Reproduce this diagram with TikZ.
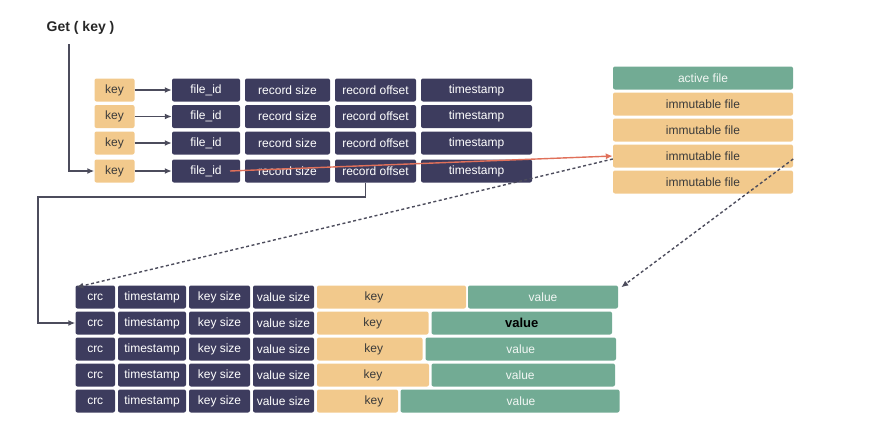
\documentclass[tikz,border=0pt]{standalone}
\usepackage{fontspec}
\setmainfont{Liberation Sans}
\usetikzlibrary{arrows.meta}
\definecolor{cNavy}{HTML}{3D3C5E}
\definecolor{cSand}{HTML}{F2C98C}
\definecolor{cSage}{HTML}{72AB94}
\definecolor{cRed}{HTML}{E0705A}
\definecolor{cWire}{HTML}{4C4C5C}
\definecolor{cKeyInk}{HTML}{3A3A3A}
\definecolor{cValInk}{HTML}{F2F7F4}
\begin{document}
\begin{tikzpicture}[x=1pt,y=-1pt,every node/.style={inner sep=0pt, font=\fontsize{12}{14}\selectfont},
	cell/.style={rounded corners=2pt, minimum height=23pt},
	navybox/.style={cell, fill=cNavy, text=white},
	sandbox/.style={cell, fill=cSand, text=cKeyInk},
	sagebox/.style={cell, fill=cSage, text=cValInk},
	wire/.style={draw=cWire, line width=1.4pt},
	tip/.style={-{Latex[length=7pt,width=6pt]}},
	dashwire/.style={wire, dash pattern=on 3pt off 2.5pt, tip}]
	
	\useasboundingbox (0,0) rectangle (874,434);
	
	\node[anchor=west, font=\bfseries\fontsize{14}{16}\selectfont, text=black!85] (get) at (46.5,28) {Get ( key )};
	\coordinate (g0) at (69,44);
	\coordinate (bend) at (38,197);
	
	% index rows
	\node[sandbox, minimum width=40pt] (k1) at (114.5,90) {key};
	\node[navybox, minimum width=68pt] (f1) at (206,90) {file\_id};
	\node[navybox, minimum width=85pt] (rs1) at (287.5,90) {record size};
	\node[navybox, minimum width=81pt] (ro1) at (375.5,90) {record offset};
	\node[navybox, minimum width=111pt] (t1) at (476.5,90) {timestamp};
	
	\node[sandbox, minimum width=40pt] (k2) at (114.5,116.5) {key};
	\node[navybox, minimum width=68pt] (f2) at (206,116.5) {file\_id};
	\node[navybox, minimum width=85pt] (rs2) at (287.5,116.5) {record size};
	\node[navybox, minimum width=81pt] (ro2) at (375.5,116.5) {record offset};
	\node[navybox, minimum width=111pt] (t2) at (476.5,116.5) {timestamp};
	
	\node[sandbox, minimum width=40pt] (k3) at (114.5,143) {key};
	\node[navybox, minimum width=68pt] (f3) at (206,143) {file\_id};
	\node[navybox, minimum width=85pt] (rs3) at (287.5,143) {record size};
	\node[navybox, minimum width=81pt] (ro3) at (375.5,143) {record offset};
	\node[navybox, minimum width=111pt] (t3) at (476.5,143) {timestamp};
	
	\node[sandbox, minimum width=40pt] (k4) at (114.5,171) {key};
	\node[navybox, minimum width=68pt] (f4) at (206,171) {file\_id};
	\node[navybox, minimum width=85pt] (rs4) at (287.5,171) {record size};
	\node[navybox, minimum width=81pt] (ro4) at (375.5,171) {record offset};
	\node[navybox, minimum width=111pt] (t4) at (476.5,171) {timestamp};
	
	% data files
	\node[sagebox, minimum width=180pt] (file0) at (703,78) {active file};
	\node[sandbox, minimum width=180pt] (file1) at (703,104) {immutable file};
	\node[sandbox, minimum width=180pt] (file2) at (703,130) {immutable file};
	\node[sandbox, minimum width=180pt] (file3) at (703,156) {immutable file};
	\node[sandbox, minimum width=180pt] (file4) at (703,182) {immutable file};
	
	% records
	\node[navybox, minimum width=39.5pt] (c1) at (95.25,297) {crc};
	\node[navybox, minimum width=68pt] (ts1) at (152,297) {timestamp};
	\node[navybox, minimum width=61pt] (ks1) at (219.5,297) {key size};
	\node[navybox, minimum width=61pt] (vs1) at (283.5,297) {value size};
	\node[sandbox, minimum width=149pt, label={[text=cKeyInk, xshift=-17.5pt]center:key}] (key1) at (391.5,297) {};
	\node[sagebox, minimum width=150pt] (val1) at (543,297) {value};
	
	\node[navybox, minimum width=39.5pt] (c2) at (95.25,323) {crc};
	\node[navybox, minimum width=68pt] (ts2) at (152,323) {timestamp};
	\node[navybox, minimum width=61pt] (ks2) at (219.5,323) {key size};
	\node[navybox, minimum width=61pt] (vs2) at (283.5,323) {value size};
	\node[sandbox, minimum width=111.5pt] (key2) at (372.75,323) {key};
	\node[sagebox, minimum width=180.5pt, text=black, font=\bfseries\fontsize{13}{15}\selectfont] (val2) at (521.75,323) {value};
	
	\node[navybox, minimum width=39.5pt] (c3) at (95.25,349) {crc};
	\node[navybox, minimum width=68pt] (ts3) at (152,349) {timestamp};
	\node[navybox, minimum width=61pt] (ks3) at (219.5,349) {key size};
	\node[navybox, minimum width=61pt] (vs3) at (283.5,349) {value size};
	\node[sandbox, minimum width=105.5pt, label={[text=cKeyInk, xshift=4pt]center:key}] (key3) at (369.75,349) {};
	\node[sagebox, minimum width=190.5pt] (val3) at (520.75,349) {value};
	
	\node[navybox, minimum width=39.5pt] (c4) at (95.25,375) {crc};
	\node[navybox, minimum width=68pt] (ts4) at (152,375) {timestamp};
	\node[navybox, minimum width=61pt] (ks4) at (219.5,375) {key size};
	\node[navybox, minimum width=61pt] (vs4) at (283.5,375) {value size};
	\node[sandbox, minimum width=112pt] (key4) at (373,375) {key};
	\node[sagebox, minimum width=183.5pt, label={[text=cValInk, xshift=-3pt]center:value}] (val4) at (523.25,375) {};
	
	\node[navybox, minimum width=39.5pt] (c5) at (95.25,401) {crc};
	\node[navybox, minimum width=68pt] (ts5) at (152,401) {timestamp};
	\node[navybox, minimum width=61pt] (ks5) at (219.5,401) {key size};
	\node[navybox, minimum width=61pt] (vs5) at (283.5,401) {value size};
	\node[sandbox, minimum width=81pt, label={[text=cKeyInk, xshift=16.5pt]center:key}] (key5) at (357.5,401) {};
	\node[sagebox, minimum width=219pt, label={[text=cValInk, xshift=11pt]center:value}] (val5) at (510,401) {};
	
	% lookups
	\draw[wire, tip] (g0) |- (k4.west);
	\draw[wire, tip] (k1) -- (f1);
	\draw[wire, tip] (k2) -- (f2);
	\draw[wire, tip] (k3) -- (f3);
	\draw[wire, tip] (k4) -- (f4);
	\draw[wire, tip] ([xshift=-10pt]ro4.south) |- (bend) |- (c2.west);
	\draw[draw=cRed, line width=1.4pt, tip] ([xshift=24pt]f4.center) -- (file3.west);
	\draw[dashwire] ([yshift=-3pt]file3.west) -- ([shift={(1pt,-2pt)}]c1.north west);
	\draw[dashwire] ([yshift=-3pt]file3.east) -- ([shift={(3pt,-2pt)}]val1.north east);
	\end{tikzpicture}
\end{document}
